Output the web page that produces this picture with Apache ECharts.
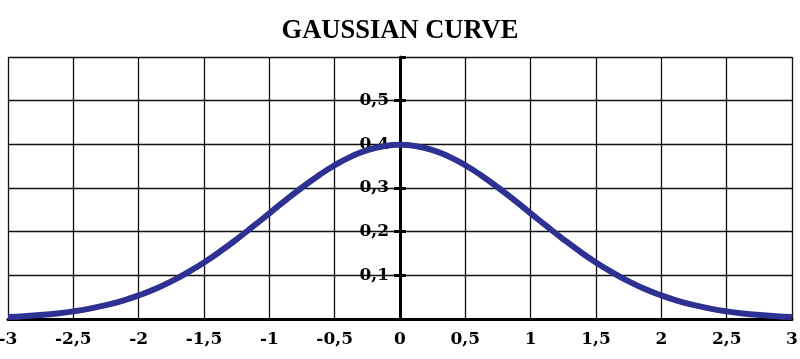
<!DOCTYPE html>
<html>
<head>
<meta charset="utf-8">
<script src="https://cdn.jsdelivr.net/npm/echarts@6/dist/echarts.min.js"></script>
<style>html,body{margin:0;padding:0;background:#fff}#c{width:800px;height:359px}</style>
</head>
<body>
<div id="c"></div>
<script>
const titleText = 'GAUSSIAN CURVE';
const xValues = [-3, -2.875, -2.75, -2.625, -2.5, -2.375, -2.25, -2.125, -2, -1.875, -1.75, -1.625, -1.5, -1.375, -1.25, -1.125, -1, -0.875, -0.75, -0.625, -0.5, -0.375, -0.25, -0.125,
  0, 0.125, 0.25, 0.375, 0.5, 0.625, 0.75, 0.875, 1, 1.125, 1.25, 1.375, 1.5, 1.625, 1.75, 1.875, 2, 2.125, 2.25, 2.375, 2.5, 2.625, 2.75, 2.875, 3];
const yValues = [0.0044, 0.0064, 0.0091, 0.0127, 0.0175, 0.0238, 0.0317, 0.0417, 0.054, 0.0688, 0.0863, 0.1066, 0.1295, 0.155, 0.1826, 0.2119, 0.242, 0.2721, 0.3011, 0.3282, 0.3521, 0.3719, 0.3867, 0.3958,
  0.3989, 0.3958, 0.3867, 0.3719, 0.3521, 0.3282, 0.3011, 0.2721, 0.242, 0.2119, 0.1826, 0.155, 0.1295, 0.1066, 0.0863, 0.0688, 0.054, 0.0417, 0.0317, 0.0238, 0.0175, 0.0127, 0.0091, 0.0064, 0.0044];
const xTickLabels = ['-3', '-2,5', '-2', '-1,5', '-1', '-0,5', '0', '0,5', '1', '1,5', '2', '2,5', '3'];
const yTickLabels = ['0', '0,1', '0,2', '0,3', '0,4', '0,5', '0,6'];

const labelFont = { fontFamily: 'DejaVu Serif', fontWeight: 'bold', fontSize: 17, color: '#000' };
const gridLeft = 8, gridRight = 8;
const chart = echarts.init(document.getElementById('c'), null, { renderer: 'canvas' });
const plotW = 800 - gridLeft - gridRight;
const yOffset = -plotW / 2;
chart.setOption({
  animation: false,
  backgroundColor: '#fff',
  title: {
    text: titleText, left: 'center', top: 13,
    textStyle: { fontFamily: 'Liberation Serif', fontWeight: 'bold', fontSize: 26.5, color: '#000' }
  },
  grid: { left: gridLeft, right: gridRight, top: 57, bottom: 40, containLabel: false, outerBoundsMode: 'none' },
  xAxis: {
    type: 'value', min: -3, max: 3, interval: 0.5,
    axisLine: { show: true, onZero: false, lineStyle: { color: '#000', width: 3 } },
    axisTick: { show: false },
    axisLabel: Object.assign({ margin: 12, formatter: (v) => xTickLabels[Math.round((v + 3) * 2)] }, labelFont),
    splitLine: { show: true, lineStyle: { color: '#111', width: 1.3 } }
  },
  yAxis: [{
    type: 'value', min: 0, max: 0.6, interval: 0.1, position: 'left', offset: yOffset,
    axisLine: { show: true, onZero: false, lineStyle: { color: '#000', width: 3 } },
    axisTick: { show: true, length: 6, lineStyle: { color: '#000', width: 3 } },
    axisLabel: Object.assign({ margin: 11, showMinLabel: false, showMaxLabel: false,
      formatter: (v) => yTickLabels[Math.round(v * 10)] }, labelFont),
    splitLine: { show: true, lineStyle: { color: '#111', width: 1.3 } }
  }, {
    type: 'value', min: 0, max: 0.6, interval: 0.1, position: 'left', offset: yOffset,
    axisLine: { show: false, onZero: false },
    axisTick: { show: true, inside: true, length: 6, lineStyle: { color: '#000', width: 3 } },
    axisLabel: { show: false },
    splitLine: { show: false }
  }],
  series: [{
    type: 'line',
    data: xValues.map((x, i) => [x, yValues[i]]),
    smooth: true,
    showSymbol: false,
    lineStyle: { color: '#2E3192', width: 6 },
    z: 5
  }]
});
</script>
</body>
</html>
